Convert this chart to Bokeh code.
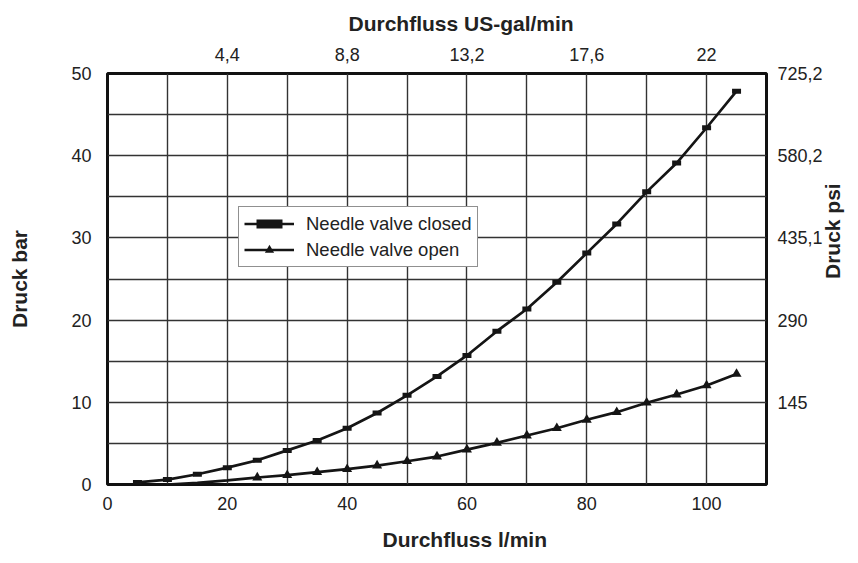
import math
from bokeh.plotting import figure
from bokeh.models import LinearAxis, FixedTicker, Title, Legend, LegendItem, Range1d
from bokeh.embed import file_html
from bokeh.resources import INLINE

# ---- data ----
flow_closed = [5, 10, 15, 20, 25, 30, 35, 40, 45, 50, 55, 60, 65, 70, 75, 80, 85, 90, 95, 100, 105]
pressure_closed = [0.25, 0.6, 1.25, 2.05, 2.95, 4.15, 5.35, 6.85, 8.7, 10.85, 13.15, 15.7,
                   18.65, 21.35, 24.6, 28.15, 31.7, 35.6, 39.1, 43.4, 47.85]

flow_open = [10, 15, 20, 25, 30, 35, 40, 45, 50, 55, 60, 65, 70, 75, 80, 85, 90, 95, 100, 105]
pressure_open = [0.0, 0.2, 0.5, 0.85, 1.13, 1.5, 1.86, 2.3, 2.83, 3.4, 4.25, 5.07, 5.96,
                 6.85, 7.87, 8.8, 9.95, 10.95, 12.05, 13.45]
flow_open_marked = flow_open[3:]
pressure_open_marked = pressure_open[3:]

x_ticks = [0, 20, 40, 60, 80, 100]
x_top_ticks = [20, 40, 60, 80, 100]
x_top_labels = ["4,4", "8,8", "13,2", "17,6", "22"]
y_ticks = [0, 10, 20, 30, 40, 50]
y_right_ticks = [10, 20, 30, 40, 50]
y_right_labels = ["145", "290", "435,1", "580,2", "725,2"]
x_grid = [0, 10, 20, 30, 40, 50, 60, 70, 80, 90, 100, 110]
y_grid = [0, 5, 10, 15, 20, 25, 30, 35, 40, 45, 50]

FONT = "Liberation Sans"
INK = "#151515"
TXT = "#222222"

p = figure(width=858, height=563, x_range=Range1d(0, 110), y_range=Range1d(0, 50),
           output_backend="svg", toolbar_location=None,
           min_border_left=107, min_border_right=91, min_border_top=73, min_border_bottom=79)
p.background_fill_color = "white"
p.border_fill_color = "white"
p.outline_line_color = "#111111"
p.outline_line_width = 3


def style_axis(ax, standoff):
    ax.axis_line_color = None
    ax.major_tick_line_color = None
    ax.minor_tick_line_color = None
    ax.major_tick_out = 0
    ax.major_tick_in = 0
    ax.minor_tick_out = 0
    ax.minor_tick_in = 0
    ax.major_label_standoff = standoff
    ax.major_label_text_font = FONT
    ax.major_label_text_font_size = "18px"
    ax.major_label_text_color = TXT
    ax.axis_label_text_font = FONT
    ax.axis_label_text_font_size = "21px"
    ax.axis_label_text_font_style = "bold"
    ax.axis_label_text_color = TXT


left = p.yaxis[0]
left.ticker = FixedTicker(ticks=y_ticks)
left.axis_label = "Druck bar"
left.axis_label_standoff = 37
style_axis(left, 16)

bottom = p.xaxis[0]
bottom.ticker = FixedTicker(ticks=x_ticks)
style_axis(bottom, 12)

right = LinearAxis(ticker=FixedTicker(ticks=y_right_ticks),
                   major_label_overrides=dict(zip(y_right_ticks, y_right_labels)))
right.axis_label = "Druck psi"
right.axis_label_orientation = math.pi / 2
right.axis_label_standoff = 7
style_axis(right, 11)
p.add_layout(right, "right")

top = LinearAxis(ticker=FixedTicker(ticks=x_top_ticks),
                 major_label_overrides=dict(zip(x_top_ticks, x_top_labels)))
style_axis(top, 13)
p.add_layout(top, "above")

top_title = Title(text="Durchfluss US-gal/min", align="left", offset=241, standoff=19,
                  text_font=FONT, text_font_size="21px", text_font_style="bold", text_color=TXT)
p.add_layout(top_title, "above")
bottom_title = Title(text="Durchfluss l/min", align="left", offset=275, standoff=26,
                     text_font=FONT, text_font_size="21px", text_font_style="bold", text_color=TXT)
p.add_layout(bottom_title, "below")

p.xgrid.ticker = FixedTicker(ticks=x_grid)
p.ygrid.ticker = FixedTicker(ticks=y_grid)
for g in (p.xgrid[0], p.ygrid[0]):
    g.grid_line_color = "#333333"
    g.grid_line_width = 1.4
    g.grid_line_alpha = 1.0

closed_line = p.line(flow_closed, pressure_closed, line_color=INK, line_width=2.7)
p.rect(flow_closed, pressure_closed, width=9, height=5, width_units="screen",
       height_units="screen", fill_color=INK, line_color=None)
open_line = p.line(flow_open, pressure_open, line_color=INK, line_width=2.7)
open_marks = p.scatter(flow_open_marked, pressure_open_marked, marker="triangle", size=10,
                       fill_color=INK, line_color=None)
# legend-only swatch (bar symbol of the "closed" entry); NaN keeps it off the plot area
legend_bar = p.line(x=[float("nan")], y=[float("nan")], line_color=INK, line_width=9,
                    line_dash="0 12 26 100")

legend = Legend(items=[LegendItem(label="Needle valve closed", renderers=[closed_line, legend_bar]),
                       LegendItem(label="Needle valve open", renderers=[open_line, open_marks])],
                location=(131, 217))
legend.padding = 5
legend.spacing = 3
legend.glyph_width = 50
legend.glyph_height = 23
legend.label_height = 23
legend.label_standoff = 12
legend.label_text_font = FONT
legend.label_text_font_size = "18.5px"
legend.label_text_color = TXT
legend.border_line_color = "#222222"
legend.border_line_width = 1
legend.background_fill_color = "white"
legend.background_fill_alpha = 1.0
p.add_layout(legend)

open("out.html", "w").write(file_html(p, INLINE))
